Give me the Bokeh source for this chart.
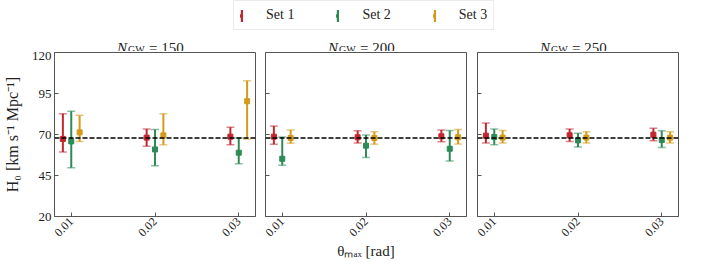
import math
from bokeh.plotting import figure
from bokeh.models import (ColumnDataSource, Span, Label, Legend, LegendItem,
                          FixedTicker, Range1d)
from bokeh.layouts import column, row
from bokeh.embed import file_html
from bokeh.resources import INLINE

# ---------------- data ----------------
THETA = [0.01, 0.02, 0.03]
X_TICK_LABELS = ["0.01", "0.02", "0.03"]
Y_TICKS = [20, 45, 70, 95, 120]
X_LIMITS = (0.008, 0.032)
Y_LIMITS = (20, 120)
N_GW = [150, 200, 250]
SETS = ["Set 1", "Set 2", "Set 3"]
H0_TRUE = 67.9

# N_GW = 150
set1_150_med = [67.3, 68.1, 68.7]
set1_150_lo = [59.3, 62.8, 63.8]
set1_150_hi = [82.7, 73.4, 74.4]
set2_150_med = [65.8, 60.9, 58.9]
set2_150_lo = [49.7, 51.0, 52.2]
set2_150_hi = [84.2, 73.0, 67.9]
set3_150_med = [71.3, 69.5, 90.3]
set3_150_lo = [65.8, 63.8, 67.3]
set3_150_hi = [81.7, 82.7, 102.7]

# N_GW = 200
set1_200_med = [68.7, 68.3, 68.9]
set1_200_lo = [64.0, 64.8, 65.6]
set1_200_hi = [75.2, 72.3, 72.7]
set2_200_med = [55.2, 63.2, 61.3]
set2_200_lo = [51.2, 56.0, 53.8]
set2_200_hi = [68.5, 69.7, 72.5]
set3_200_med = [67.9, 67.9, 68.3]
set3_200_lo = [64.6, 64.0, 64.2]
set3_200_hi = [72.7, 71.7, 73.0]

# N_GW = 250
set1_250_med = [69.3, 69.5, 69.9]
set1_250_lo = [64.8, 65.8, 66.2]
set1_250_hi = [77.0, 73.4, 73.8]
set2_250_med = [68.5, 66.4, 66.6]
set2_250_lo = [63.8, 62.4, 62.0]
set2_250_hi = [73.4, 70.7, 72.3]
set3_250_med = [68.1, 68.1, 68.1]
set3_250_lo = [64.8, 64.8, 64.8]
set3_250_hi = [72.5, 71.7, 71.7]

PANELS = {
    150: [(set1_150_med, set1_150_lo, set1_150_hi),
          (set2_150_med, set2_150_lo, set2_150_hi),
          (set3_150_med, set3_150_lo, set3_150_hi)],
    200: [(set1_200_med, set1_200_lo, set1_200_hi),
          (set2_200_med, set2_200_lo, set2_200_hi),
          (set3_200_med, set3_200_lo, set3_200_hi)],
    250: [(set1_250_med, set1_250_lo, set1_250_hi),
          (set2_250_med, set2_250_lo, set2_250_hi),
          (set3_250_med, set3_250_lo, set3_250_hi)],
}

# ---------------- style ----------------
FONT = "Liberation Serif"
TEXT = "#222222"
FRAME = "#555555"
COLORS = ["#c1272d", "#2e8b57", "#d49a1a"]
X_SHIFT = [-0.001, 0.0, 0.001]   # horizontal dodge of the three sets
FRAME_W = 201
FRAME_H = 164
LEFT_BORDERS = [49, 5, 6]
RIGHT_BORDER = 5
HEADER_H = 51

first_sources = []
panels = []
panel_centers = []
x_cursor = 0
for i, n in enumerate(N_GW):
    panel_centers.append(x_cursor + LEFT_BORDERS[i] + FRAME_W / 2)
    x_cursor += LEFT_BORDERS[i] + FRAME_W + RIGHT_BORDER

    p = figure(frame_width=FRAME_W, frame_height=FRAME_H,
               x_range=Range1d(*X_LIMITS), y_range=Range1d(*Y_LIMITS),
               output_backend="svg", toolbar_location=None,
               y_axis_location="left" if i == 0 else None,
               min_border_left=LEFT_BORDERS[i], min_border_right=RIGHT_BORDER,
               min_border_top=1, min_border_bottom=44)
    p.grid.visible = False
    p.outline_line_color = FRAME
    p.outline_line_width = 1
    p.background_fill_color = "white"
    p.border_fill_color = "white"

    axes = [p.xaxis[0]] + ([p.yaxis[0]] if i == 0 else [])
    for ax in axes:
        ax.axis_line_color = FRAME
        ax.major_tick_line_color = FRAME
        ax.major_tick_in = 4
        ax.major_tick_out = 0
        ax.minor_tick_line_color = None
        ax.major_label_text_font = FONT
        ax.major_label_text_color = TEXT

    p.xaxis.ticker = FixedTicker(ticks=THETA)
    p.xaxis.major_label_overrides = {t: l for t, l in zip(THETA, X_TICK_LABELS)}
    p.xaxis.major_label_orientation = math.pi / 4
    p.xaxis.major_label_text_font_size = "12px"
    p.xaxis.major_label_standoff = 3
    if i == 1:
        p.xaxis.axis_label = "θₘₐₓ [rad]"
        p.xaxis.axis_label_text_font = FONT
        p.xaxis.axis_label_text_font_style = "normal"
        p.xaxis.axis_label_text_font_size = "15px"
        p.xaxis.axis_label_text_color = TEXT
        p.xaxis.axis_label_standoff = 0

    if i == 0:
        p.yaxis.ticker = FixedTicker(ticks=Y_TICKS)
        p.yaxis.major_label_text_font_size = "13px"
        p.yaxis.major_label_standoff = 3
        p.yaxis.axis_label = "H₀ [km s⁻¹ Mpc⁻¹]"
        p.yaxis.axis_label_text_font = FONT
        p.yaxis.axis_label_text_font_style = "normal"
        p.yaxis.axis_label_text_font_size = "16px"
        p.yaxis.axis_label_text_color = TEXT
        p.yaxis.axis_label_standoff = 8
    else:
        # unlabeled inward y ticks on the shared-axis panels
        tick_src = ColumnDataSource(dict(x=[X_LIMITS[0]] * len(Y_TICKS), y=Y_TICKS))
        p.scatter(x="x", y="y", source=tick_src, marker="dash", size=8,
                  line_color=FRAME, line_width=1)

    for k, (med, lo, hi) in enumerate(PANELS[n]):
        src = ColumnDataSource(dict(
            x=[t + X_SHIFT[k] for t in THETA], y=med, lo=lo, hi=hi))
        if i == 0:
            first_sources.append(src)
        c = COLORS[k]
        p.segment(x0="x", y0="lo", x1="x", y1="hi", source=src,
                  line_color=c, line_width=2)
        p.scatter(x="x", y="lo", source=src, marker="dash", size=8,
                  line_color=c, line_width=1.5, line_alpha=0.55)
        p.scatter(x="x", y="hi", source=src, marker="dash", size=8,
                  line_color=c, line_width=1.5, line_alpha=0.55)
        p.scatter(x="x", y="y", source=src, marker="square", size=5,
                  fill_color=c, line_color=c)

    p.add_layout(Span(location=H0_TRUE, dimension="width", line_color="black",
                      line_width=1.5, line_dash="5 2"))
    panels.append(p)

# ---------------- header strip: legend + panel titles ----------------
total_w = x_cursor
hf = figure(width=total_w, height=HEADER_H, output_backend="svg",
            toolbar_location=None, min_border=0,
            x_axis_location=None, y_axis_location=None,
            x_range=Range1d(0, total_w), y_range=Range1d(0, HEADER_H))
hf.grid.visible = False
hf.outline_line_color = None
items = []
for k, src in enumerate(first_sources):
    c = COLORS[k]
    r1 = hf.vbar(x="x", top="hi", bottom="lo", width=0.001, source=src,
                 fill_color=c, line_color=None, visible=False)
    r2 = hf.scatter(x="x", y="y", source=src, marker="square",
                    fill_color=c, line_color=c, line_width=4, visible=False)
    items.append(LegendItem(label=SETS[k], renderers=[r1, r2], index=0))
leg = Legend(items=items, orientation="horizontal", location=(233, 21),
             glyph_width=3, glyph_height=15, label_standoff=23, spacing=42,
             padding=6, margin=0, border_line_color="#d8d8d8",
             label_text_font=FONT, label_text_font_size="14px",
             label_text_color=TEXT, background_fill_alpha=1)
hf.add_layout(leg, "center")

for cx, n in zip(panel_centers, N_GW):
    base = dict(x=cx, y=4, x_units="screen", y_units="screen", text_font=FONT,
                text_color=TEXT, text_baseline="alphabetic")
    hf.add_layout(Label(text="N", x_offset=-33, text_font_size="15px",
                        text_font_style="italic", **base))
    sub = dict(base)
    sub["y"] = 2.5
    hf.add_layout(Label(text="GW", x_offset=-22, text_font_size="10px", **sub))
    hf.add_layout(Label(text=f"= {n}", x_offset=-1, text_font_size="15px", **base))

layout = column(hf, row(*panels, spacing=0), spacing=0)
open("out.html", "w").write(file_html(layout, INLINE))
